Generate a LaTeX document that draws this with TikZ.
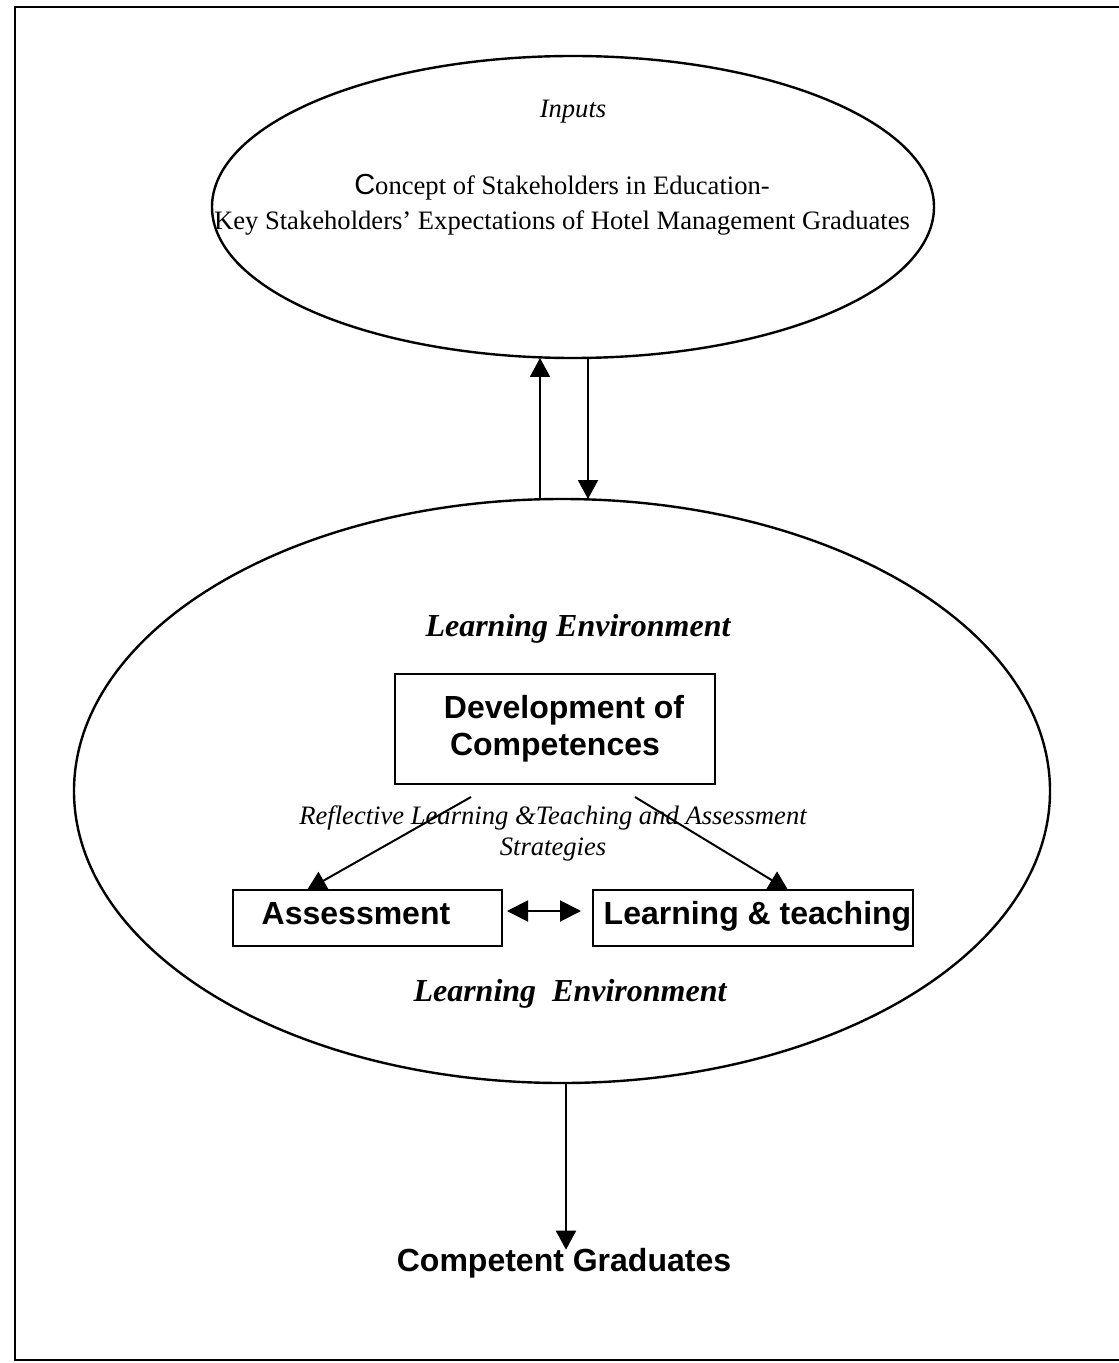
\documentclass[tikz,border=0pt]{standalone}
\usepackage{fontspec}
\setmainfont{Liberation Serif}
\setsansfont{Liberation Sans}
\usetikzlibrary{arrows.meta,calc,shapes.geometric}

\begin{document}
\begin{tikzpicture}[x=0.5pt,y=-0.5pt,
  conn/.style={line width=1pt,-{Triangle[length=9.5pt,width=10pt]}},
  twoway/.style={line width=1pt,{Triangle[length=10.5pt,width=10.5pt]}-{Triangle[length=10.5pt,width=10.5pt]}},
  oval/.style={draw,ellipse,line width=1.2pt,inner sep=0pt,outer sep=0pt},
  box/.style={draw,rectangle,line width=1pt,inner sep=0pt,outer sep=0pt,
    font=\sffamily\bfseries\fontsize{16pt}{18.5pt}\selectfont},
  serif/.style={font=\fontsize{13.3pt}{15.5pt}\selectfont,inner sep=0pt,align=center},
  envlabel/.style={font=\bfseries\itshape\fontsize{16pt}{18pt}\selectfont,inner sep=0pt},
  outcome/.style={font=\sffamily\bfseries\fontsize{16pt}{18pt}\selectfont,inner sep=0pt}
]
\useasboundingbox (0,0) rectangle (1118,1363);
\fill[white] (0,0) rectangle (1118,1363);

% frame (runs off the right edge)
\draw[line width=1.4pt] (1140,7) -- (15,7) -- (15,1360) -- (1140,1360);

% inputs oval
\node[oval,minimum width=361pt,minimum height=151pt] (inputs) at (573,207) {};
\node[serif,font=\itshape\fontsize{13.3pt}{15.5pt}\selectfont] (inlab) at (573,112) {Inputs};
\node[serif] (concept) at (562,205)
  {{\sffamily\fontsize{14.5pt}{15pt}\selectfont C}oncept of Stakeholders in Education-\\[2pt]
   Key Stakeholders' Expectations of Hotel Management Graduates};

% learning environment oval
\node[oval,minimum width=488pt,minimum height=292pt] (env) at (562,791) {};
\node[envlabel] (envtop) at (578,629) {Learning Environment};
\node[envlabel] (envbot) at (570,994) {Learning\ \ Environment};

% competence box and its two targets
\node[box,minimum width=160pt,minimum height=55pt,align=center] (dev) at (555,729)
  {\hspace*{9pt}Development of\\Competences};
\node[serif,font=\itshape\fontsize{13.3pt}{15.5pt}\selectfont] (strat) at (553,833)
  {Reflective Learning \&Teaching and Assessment\\Strategies};
\node[box,minimum width=134.5pt,minimum height=28pt,text height=11.5pt,text depth=5pt]
  (asm) at (367.5,918) {\hspace*{-11.5pt}Assessment};
\node[box,minimum width=160pt,minimum height=28pt,text height=11.5pt,text depth=5pt]
  (lt) at (753,918) {\hspace*{4.5pt}Learning \& teaching};

\node[outcome] (grad) at (564,1263) {Competent Graduates};

% connectors
\coordinate (upx) at (540,0);
\coordinate (downx) at (588,0);
\coordinate (outx) at (566,0);
\coordinate (midy) at (0,911);

\draw[conn] (env.north -| upx) -- (inputs.south -| upx);
\draw[conn] (inputs.south -| downx) -- (env.north -| downx);
\draw[conn] ($(dev.south)+(-84,13)$) -- ($(asm.north west)+(74,0)$);
\draw[conn] ($(dev.south)+(80,13)$) -- ($(lt.north west)+(195,0)$);
\draw[twoway,shorten <=2.5pt,shorten >=6pt] (asm.east |- midy) -- (lt.west |- midy);
\draw[conn] (env.south -| outx) -- ($(grad.north -| outx)+(0,2)$);
\end{tikzpicture}
\end{document}
